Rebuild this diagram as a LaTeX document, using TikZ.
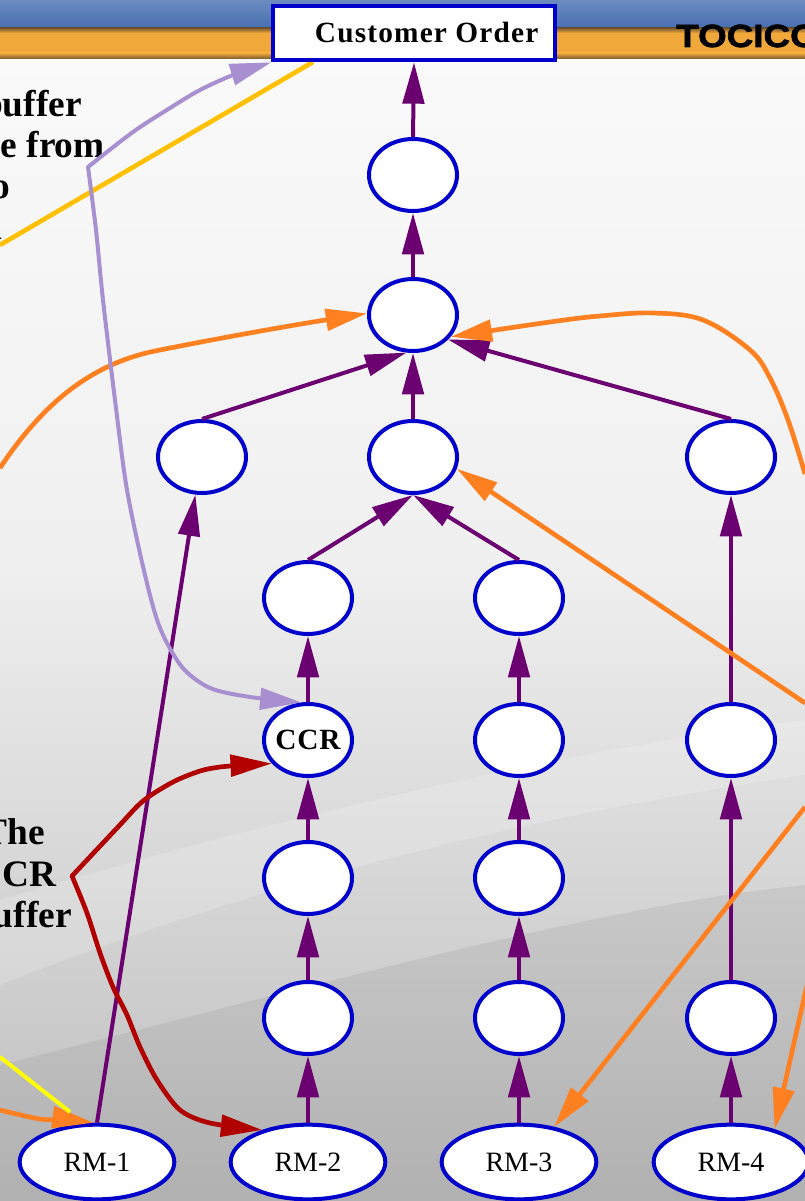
\documentclass[tikz,border=0pt]{standalone}
\usepackage{fontspec}
\setmainfont{Liberation Serif}
\newfontfamily\tocfont[FakeStretch=1.15,BoldFeatures={FakeBold=2}]{Liberation Sans}
\usetikzlibrary{shapes.geometric,arrows.meta,calc}
\definecolor{pp}{RGB}{107,0,112}
\definecolor{nb}{RGB}{0,0,204}
\definecolor{og}{RGB}{255,128,32}
\definecolor{lav}{RGB}{168,144,208}
\definecolor{dred}{RGB}{176,0,0}
\definecolor{gold}{RGB}{255,192,0}
\definecolor{yel}{RGB}{255,255,0}
\definecolor{bandblue}{RGB}{70,110,176}
\definecolor{bandorg}{RGB}{240,168,58}
\definecolor{bandedge}{RGB}{120,88,48}
\tikzset{tri/.tip={Triangle[length=31pt,width=16pt]}}
\begin{document}
\begin{tikzpicture}[x=0.75pt,y=-0.75pt,
  proc/.style={ellipse,draw=nb,line width=3pt,fill=white,minimum width=66pt,minimum height=54pt,inner sep=0pt},
  rmnode/.style={ellipse,draw=nb,line width=3pt,fill=white,minimum width=116pt,minimum height=56pt,inner sep=0pt,font=\fontsize{21}{24}\selectfont},
  cobox/.style={rectangle,draw=nb,line width=3pt,fill=white,minimum width=211pt,minimum height=41pt,inner sep=0pt,font=\fontsize{22}{26}\selectfont\bfseries\addfontfeatures{LetterSpace=4}},
  flow/.style={draw=pp,line width=3pt,-tri},
  ofeed/.style={draw=og,line width=3.5pt,line join=round,-tri},
  lavline/.style={draw=lav,line width=3pt,line join=round,tri-tri},
  redline/.style={draw=dred,line width=3.5pt,line join=round,tri-tri},
  frag/.style={font=\fontsize{28}{32}\selectfont\bfseries,inner sep=0pt,anchor=base east}
]
\useasboundingbox (0,0) rectangle (805,1201);
% ---------- background ----------
\fill[white!97!black] (0,0) rectangle (805,1201);
\shade[top color=white!98!black,bottom color=white!94!black] (0,58) rectangle (805,560);
\shade[top color=white!94!black,bottom color=white!74!black] (0,560) rectangle (805,1201);
\fill[black,opacity=0.06] (0,1065) .. controls (300,990) and (600,905) .. (805,885) -- (805,1201) -- (0,1201) -- cycle;
\fill[white,opacity=0.18] (0,900) .. controls (300,810) and (600,745) .. (805,720) -- (805,775) .. controls (600,805) and (300,865) .. (0,985) -- cycle;
\shade[top color=bandblue!80!white,bottom color=bandblue] (0,0) rectangle (805,29);
\fill[bandorg] (0,29) rectangle (805,57);
\shade[top color=bandedge,bottom color=bandorg] (0,28) rectangle (805,33);
\shade[top color=bandorg,bottom color=bandedge] (0,53) rectangle (805,59);
\node[anchor=base west,inner sep=0pt,font=\tocfont\bfseries\fontsize{24}{26}\selectfont] (toc) at (676,47) {TOCICO};
% ---------- side texts (cut by the page edge, as in the reference) ----------
\node[frag] (t1) at (82,117) {buffer};
\node[frag] (t2) at (105,158) {time from};
\node[frag] (t3) at (10,199) {to};
\node[frag] (t4) at (3,240) {in};
\node[frag] (b1) at (45,844) {The};
\node[frag] (b2) at (57,886) {CCR};
\node[frag] (b3) at (72,927) {buffer};
% ---------- gold line under the order box ----------
\coordinate (g0) at (0,245);
\coordinate (g1) at (313,62);
\draw[gold,line width=3.5pt] (g0) -- (g1);
% ---------- nodes ----------
\node[cobox] (CO) at (414,33) {\hspace*{19pt}Customer Order};
\node[proc] (n1) at (413,175) {};
\node[proc] (n2) at (413,315) {};
\node[proc] (n3a) at (202,457) {};
\node[proc] (n3b) at (413,457) {};
\node[proc] (n3c) at (731,457) {};
\node[proc] (n4a) at (308,598) {};
\node[proc] (n4b) at (519,598) {};
\node[proc,font=\fontsize{22}{24}\selectfont\bfseries\addfontfeatures{LetterSpace=3}] (ccr) at (308,740) {\makebox[0pt]{CCR}};
\node[proc] (n5b) at (519,740) {};
\node[proc] (n5c) at (731,740) {};
\node[proc] (n6a) at (308,878) {};
\node[proc] (n6b) at (519,878) {};
\node[proc] (n7a) at (308,1018) {};
\node[proc] (n7b) at (519,1018) {};
\node[proc] (n7c) at (731,1018) {};
\node[rmnode] (rm1) at (97,1162) {RM-1};
\node[rmnode] (rm2) at (308,1162) {RM-2};
\node[rmnode] (rm3) at (519,1162) {RM-3};
\node[rmnode] (rm4) at (731,1162) {RM-4};
% ---------- product flow ----------
\draw[flow] (n1.north) -- (CO.south);
\draw[flow] (n2.north) -- (n1.south);
\draw[flow] (n3a.north) -- (n2.260);
\draw[flow] (n3b.north) -- (n2.south);
\draw[flow] (n3c.north) -- (n2.-35);
\draw[flow] (n4a.north) -- (n3b.south);
\draw[flow] (n4b.north) -- (n3b.south);
\draw[flow] (ccr.north) -- (n4a.south);
\draw[flow] (n5b.north) -- (n4b.south);
\draw[flow] (n5c.north) -- (n3c.south);
\draw[flow] (n6a.north) -- (ccr.south);
\draw[flow] (n6b.north) -- (n5b.south);
\draw[flow] (n7a.north) -- (n6a.south);
\draw[flow] (n7b.north) -- (n6b.south);
\draw[flow] (n7c.north) -- (n5c.south);
\draw[flow] (rm2.north) -- (n7a.south);
\draw[flow] (rm3.north) -- (n7b.south);
\draw[flow] (rm4.north) -- (n7c.south);
\draw[flow] (rm1.north) -- (n3a.-100);
% ---------- orange (buffer) lines ----------
\coordinate (oL) at (0,468);
\coordinate (oR) at (805,474);
\coordinate (oM) at (805,703);
\coordinate (o3) at (805,807);
\coordinate (o4) at (807,985);
\coordinate (oB) at (0,1110);
\draw[ofeed] (oL) .. controls (45,400) and (95,362) .. (160,350) .. controls (230,336) and (300,324) .. (n2.178);
\draw[ofeed] plot[smooth,tension=0.6] coordinates {(oR) (788,420) (770,378) (750,350) (703,320) (653,313) (600,316) (550,322) (n2.-30)};
\draw[ofeed] (oM) -- (n3b.-15);
\draw[ofeed] (o3) -- (rm3.45);
\draw[ofeed] (o4) -- (rm4.37);
\draw[ofeed] plot[smooth,tension=0.5] coordinates {(oB) (40,1119) (70,1120) (rm1.95)};
% ---------- yellow line ----------
\coordinate (y0) at (0,1057);
\coordinate (y1) at (70,1112);
\draw[yel,line width=3pt] (y0) -- (y1);
% ---------- lavender line ----------
\coordinate (lc) at (88,167);
\draw[lavline] plot[smooth,tension=0.5] coordinates {(CO.south west) (233,75) (200,90) (170,108) (133,132) (lc)}
  -- plot[smooth,tension=0.5] coordinates {(lc) (96,230) (103,300) (115,400) (127,490) (145,575) (160,628) (182,667) (210,688) (250,697) (ccr.100)};
% ---------- red line ----------
\coordinate (rc) at (72,876);
\draw[redline] plot[smooth,tension=0.5] coordinates {(ccr.213) (245,765) (220,767) (200,771) (173,782) (143,801) (118,827) (rc)}
  -- plot[smooth,tension=0.5] coordinates {(rc) (87,913) (100,953) (113,987) (127,1015) (140,1047) (157,1080) (180,1110) (210,1123) (rm2.145)};
\end{tikzpicture}
\end{document}
